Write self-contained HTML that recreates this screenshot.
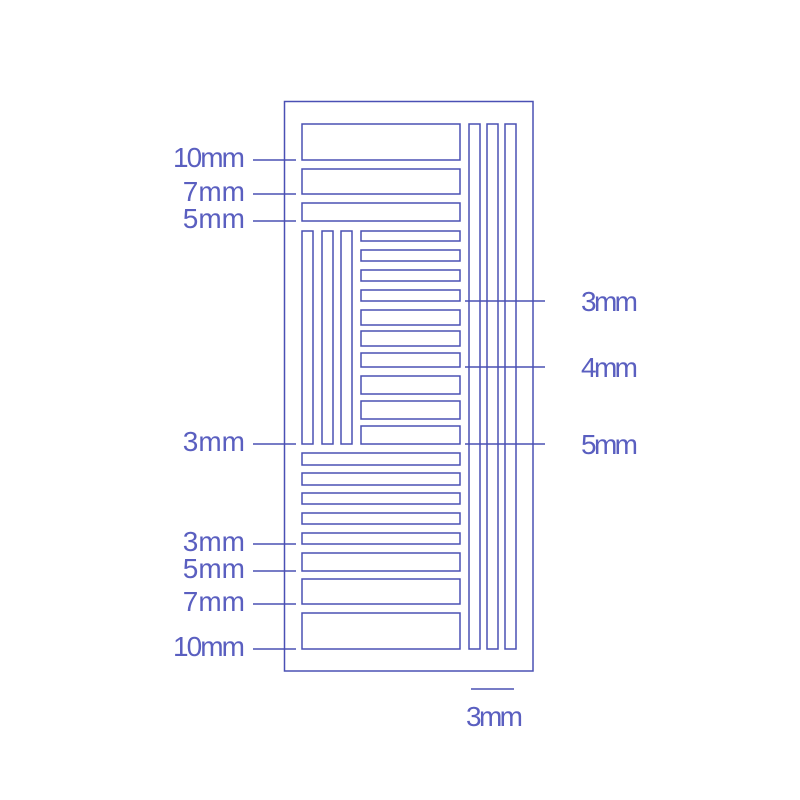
<!DOCTYPE html>
<html><head><style>body{margin:0;background:#fff}svg{display:block}</style></head><body>
<svg width="800" height="800" viewBox="0 0 800 800" xmlns="http://www.w3.org/2000/svg">
<g fill="none" stroke="#4a50b4" stroke-width="1.5">
<rect x="284.5" y="101.5" width="248.5" height="569.5"/>
<rect x="302" y="124" width="158" height="36"/>
<rect x="302" y="169" width="158" height="25"/>
<rect x="302" y="203" width="158" height="18"/>
<rect x="469" y="124" width="11" height="525"/>
<rect x="487" y="124" width="11" height="525"/>
<rect x="505" y="124" width="11" height="525"/>
<rect x="302" y="231" width="11" height="213"/>
<rect x="322" y="231" width="11" height="213"/>
<rect x="341" y="231" width="11" height="213"/>
<rect x="361" y="231" width="99" height="10"/>
<rect x="361" y="250" width="99" height="11"/>
<rect x="361" y="270" width="99" height="11"/>
<rect x="361" y="290" width="99" height="11"/>
<rect x="361" y="310" width="99" height="15"/>
<rect x="361" y="331" width="99" height="15"/>
<rect x="361" y="353" width="99" height="14"/>
<rect x="361" y="376" width="99" height="18"/>
<rect x="361" y="401" width="99" height="18"/>
<rect x="361" y="426" width="99" height="18"/>
<rect x="302" y="453" width="158" height="12"/>
<rect x="302" y="473" width="158" height="12"/>
<rect x="302" y="493" width="158" height="11"/>
<rect x="302" y="513" width="158" height="11"/>
<rect x="302" y="533" width="158" height="11"/>
<rect x="302" y="553" width="158" height="18"/>
<rect x="302" y="579" width="158" height="25"/>
<rect x="302" y="613" width="158" height="36"/>
<path d="M253 160H296M253 194H296M253 221H296M253 444H296M253 544H296M253 571H296M253 604H296M253 649H296M465 301H545M465 367H545M465 444H545M471 689H514"/>
</g>
<g fill="#5a5fc0" font-family="Liberation Sans, sans-serif" font-size="28" text-anchor="end">
<text x="245" y="167" textLength="72">10mm</text>
<text x="245" y="201">7mm</text>
<text x="245" y="228">5mm</text>
<text x="245" y="451">3mm</text>
<text x="245" y="551">3mm</text>
<text x="245" y="578">5mm</text>
<text x="245" y="611">7mm</text>
<text x="245" y="656" textLength="72">10mm</text>
</g>
<g fill="#5a5fc0" font-family="Liberation Sans, sans-serif" font-size="28">
<text x="581" y="311" textLength="57">3mm</text>
<text x="581" y="377" textLength="57">4mm</text>
<text x="581" y="454" textLength="57">5mm</text>
<text x="466" y="726" textLength="57">3mm</text>
</g>
</svg>
</body></html>
